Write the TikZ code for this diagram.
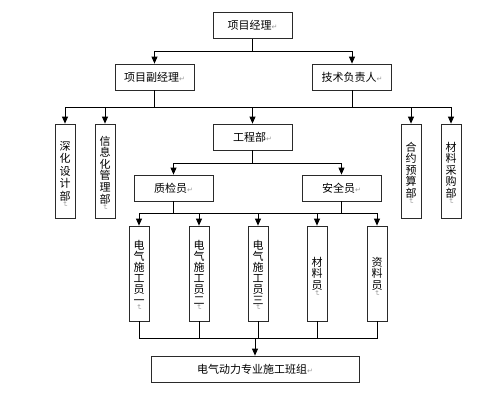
\documentclass[tikz,border=0pt]{standalone}
\usepackage{fontspec}
\usepackage{xcolor}
\usepackage{tikz}
\usetikzlibrary{positioning, calc, arrows.meta}
\newfontfamily\cjk{Noto Sans CJK SC}
\newfontfamily\markfont{DejaVu Sans}
\definecolor{BoxLine}{HTML}{2A2A2A}
\definecolor{MarkGray}{HTML}{9A9A9A}
\newcommand\pmark{{\markfont\color{MarkGray}\fontsize{7}{7}\selectfont ↵}}
\newcommand\vmark{\rotatebox{-90}{\pmark}}
% one character per row, rows #1 apart, paragraph mark under the last one
\newcommand\vtext[2]{\vtop{\baselineskip=#1\lineskiplimit=-20pt\relax
  \def\\{\hss\egroup\hbox to 12pt\bgroup\hss}%
  \hbox to 12pt\bgroup\hss#2\hss\egroup
  \nointerlineskip\kern0.5pt\hbox to 12pt{\hss\vmark\hss}}}

\begin{document}
\begin{tikzpicture}[x=1pt,y=-1pt,font=\cjk\fontsize{11}{12.5}\selectfont,
  hbox/.style={draw=BoxLine,line width=0.8pt,minimum width=79pt,minimum height=26pt,inner sep=0pt},
  vbox/.style 2 args={draw=BoxLine,line width=0.8pt,minimum width=20pt,minimum height=94pt,inner sep=0pt,
    text height=#1,text depth=#2},
  link/.style={line width=0.8pt},
  arr/.style={link,-{Triangle[width=6pt,length=7pt]}}]
  \useasboundingbox (0,0) rectangle (500,400);
  % top levels
  \node[hbox] (boss) at (252.5,25.5) {项目经理\pmark};
  \node[hbox] (vice) at (154.5,77) {项目副经理\pmark};
  \node[hbox] (tech) at (352,77) {技术负责人\pmark};
  \node[hbox] (eng) at (252.5,137) {工程部\pmark};
  \node[vbox={26pt}{68pt}] (deep) at (65,171) {\vtext{12.5pt}{深\\化\\设\\计\\部}};
  \node[vbox={21pt}{73pt}] (info) at (105,171) {\vtext{11.6pt}{信\\息\\化\\管\\理\\部}};
  \node[vbox={27pt}{67pt}] (contract) at (411,171) {\vtext{11.6pt}{合\\约\\预\\算\\部}};
  \node[vbox={27pt}{67pt}] (purchase) at (451,171) {\vtext{11.6pt}{材\\料\\采\\购\\部}};
  \node[hbox] (qc) at (173.5,188) {质检员\pmark};
  \node[hbox] (safety) at (341.5,188) {安全员\pmark};
  % working staff
  \node[vbox={23pt}{72pt},minimum height=95pt] (elec1) at (139,273.5) {\vtext{11pt}{电\\气\\施\\工\\员\\一}};
  \node[vbox={23pt}{72pt},minimum height=95pt] (elec2) at (199,273.5) {\vtext{11pt}{电\\气\\施\\工\\员\\二}};
  \node[vbox={23pt}{72pt},minimum height=95pt] (elec3) at (258,273.5) {\vtext{11pt}{电\\气\\施\\工\\员\\三}};
  \node[vbox={40pt}{55pt},minimum height=95pt] (mat) at (317,273.5) {\vtext{11.5pt}{材\\料\\员}};
  \node[vbox={40pt}{55pt},minimum height=95pt] (doc) at (377,273.5) {\vtext{11.5pt}{资\\料\\员}};
  \node[hbox,minimum width=208pt] (team) at (255,369) {电气动力专业施工班组\pmark};
  % bus lines
  \coordinate (bus1) at (0,51);
  \coordinate (bus2) at (0,107);
  \coordinate (bus3) at (0,163);
  \coordinate (bus4) at (0,213);
  \coordinate (bus5) at (0,338);
  \draw[link] (boss) -- (boss |- bus1);
  \foreach \n in {vice,tech}{\draw[arr] (boss |- bus1) -| (\n);}
  \draw[link] (vice) -- (vice |- bus2);
  \draw[link] (tech) -- (tech |- bus2);
  \foreach \n in {deep,info,eng,contract,purchase}{\draw[arr] (vice |- bus2) -| (\n);}
  \draw[link] (eng) -- (eng |- bus3);
  \foreach \n in {qc,safety}{\draw[arr] (eng |- bus3) -| (\n);}
  \draw[link] (qc) -- (qc |- bus4);
  \draw[link] (safety) -- (safety |- bus4);
  \foreach \n in {elec1,elec2,elec3,mat,doc}{\draw[arr] (qc |- bus4) -| (\n);}
  \foreach \n in {elec1,elec2,elec3,mat,doc}{\draw[link] (\n) -- (\n |- bus5) -- (team |- bus5);}
  \draw[arr] (team |- bus5) -- (team);
\end{tikzpicture}
\end{document}
